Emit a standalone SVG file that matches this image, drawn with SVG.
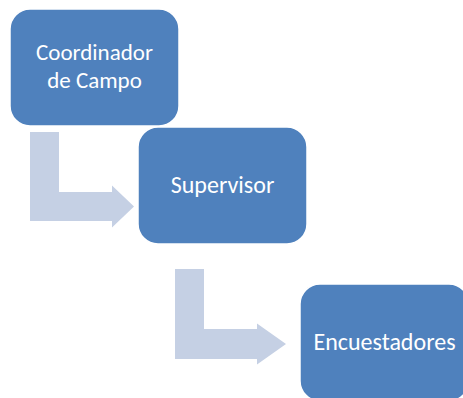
<svg xmlns="http://www.w3.org/2000/svg" width="463" height="398" viewBox="0 0 463 398">
<style>
.box{fill:#4F81BD;stroke:#FFFFFF;stroke-width:1.5}
.arrow{fill:#C5D0E4;stroke:none}
.lbl{font-family:Calibri,"Open Sans","Liberation Sans",sans-serif;font-size:24px;fill:#FFFFFF;text-anchor:middle}
.sm{font-size:23px}
</style>
<rect width="463" height="398" fill="#FFFFFF"/>
<g id="connectors">
<path class="arrow" d="M30,132 H59 V192 H112 V185.5 L134,206.5 L112,227.5 V221 H30 Z"/>
<path class="arrow" d="M175,269 H204 V329 H257 V323.5 L286,344 L257,364.5 V359 H175 Z"/>
</g>
<g id="node-coordinador">
<rect class="box" x="10" y="9" width="169" height="117" rx="20" ry="20"/>
<text class="lbl sm" x="94.5" y="60">Coordinador</text>
<text class="lbl sm" x="94.5" y="87.5">de Campo</text>
</g>
<g id="node-supervisor">
<rect class="box" x="138" y="127" width="169" height="117" rx="20" ry="20"/>
<text class="lbl" x="222.5" y="193">Supervisor</text>
</g>
<g id="node-encuestadores">
<rect class="box" x="300" y="284" width="169" height="117" rx="20" ry="20"/>
<text class="lbl" x="384.5" y="350">Encuestadores</text>
</g>
</svg>
